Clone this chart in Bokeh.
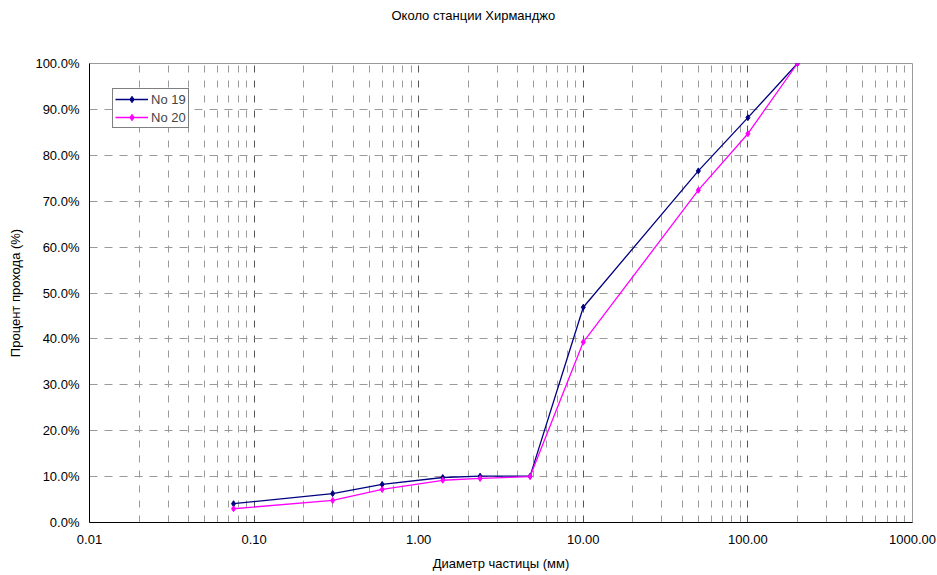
from bokeh.plotting import figure
from bokeh.models import (FixedTicker, CustomJSTickFormatter, Range1d, Legend, LegendItem, Title)
from bokeh.embed import file_html
from bokeh.resources import INLINE

# ---- data ----
diameter_mm = [0.075, 0.3, 0.6, 1.4, 2.36, 4.75, 10, 50, 100, 200]
no19_pct = [4.1, 6.3, 8.3, 9.8, 10.1, 10.1, 46.9, 76.6, 88.2, 100.0]
no20_pct = [3.0, 4.8, 7.2, 9.2, 9.6, 10.0, 39.3, 72.4, 84.7, 100.0]
series_names = ["No 19", "No 20"]
series_colors = ["#000080", "#FF00FF"]
x_major_ticks = [0.01, 0.1, 1, 10, 100, 1000]
x_minor_ticks = [m * d for d in [0.01, 0.1, 1, 10, 100] for m in range(2, 10)]
y_ticks = [0, 10, 20, 30, 40, 50, 60, 70, 80, 90, 100]
title_text = "Около станции Хирманджо"
x_label = "Диаметр частицы (мм)"
y_label = "Процент прохода (%)"

FONT = "Liberation Sans"

p = figure(width=937, height=575, x_axis_type="log", output_backend="svg",
           toolbar_location=None, x_range=Range1d(0.01, 1000), y_range=Range1d(0, 100),
           min_border_left=89, min_border_right=25, min_border_top=63, min_border_bottom=53)
p.title = None

# spacer panel next to the frame, then the real title above it
spacer = Title(text=" ", standoff=22, text_font=FONT, text_font_size="13px")
p.add_layout(spacer, "above")
t = Title(text=title_text, align="left", offset=302, standoff=0, vertical_align="top",
          text_font=FONT, text_font_size="13px", text_font_style="normal", text_color="black")
p.add_layout(t, "above")

p.outline_line_color = "#999999"
p.outline_line_width = 1
p.background_fill_color = "white"
p.border_fill_color = "white"

# axes
p.xaxis.ticker = FixedTicker(ticks=x_major_ticks, minor_ticks=x_minor_ticks)
p.xaxis.formatter = CustomJSTickFormatter(code="return tick.toFixed(2);")
p.yaxis.ticker = FixedTicker(ticks=y_ticks)
p.yaxis.formatter = CustomJSTickFormatter(code="return tick.toFixed(1) + '%';")
for ax in (p.xaxis[0], p.yaxis[0]):
    ax.axis_line_color = "black"
    ax.axis_line_width = 1
    ax.major_tick_in = 0
    ax.major_tick_out = 0
    ax.minor_tick_in = 0
    ax.minor_tick_out = 0
    ax.major_label_text_font = FONT
    ax.major_label_text_font_size = "13px"
    ax.major_label_text_color = "black"
    ax.axis_label_text_font = FONT
    ax.axis_label_text_font_size = "13px"
    ax.axis_label_text_font_style = "normal"
    ax.axis_label_text_color = "black"
p.xaxis.axis_label = x_label
p.yaxis.axis_label = y_label
p.xaxis.major_label_standoff = 12
p.xaxis.axis_label_standoff = 9
p.yaxis.major_label_standoff = 10
p.yaxis.axis_label_standoff = 9

# grids
p.xgrid.ticker = FixedTicker(ticks=x_major_ticks, minor_ticks=x_minor_ticks)
p.xgrid.grid_line_color = "#555555"
p.xgrid.grid_line_dash = "7 8"
p.xgrid.minor_grid_line_color = "#9a9a9a"
p.xgrid.minor_grid_line_dash = "7 8"
p.ygrid.ticker = FixedTicker(ticks=y_ticks)
p.ygrid.grid_line_color = "#9a9a9a"
p.ygrid.grid_line_dash = "8 7"

items = []
for name, vals, col in zip(series_names, [no19_pct, no20_pct], series_colors):
    ln = p.line(diameter_mm, vals, line_color=col, line_width=1.3)
    mk = p.scatter(diameter_mm, vals, marker="diamond", size=6, fill_color=col, line_color=col)
    items.append(LegendItem(label=name, renderers=[ln, mk]))

legend = Legend(items=items, location=(23, 394))
legend.label_text_font = FONT
legend.label_text_font_size = "13px"
legend.border_line_color = "black"
legend.border_line_width = 1
legend.background_fill_alpha = 1
legend.glyph_width = 33
legend.glyph_height = 16
legend.label_height = 16
legend.label_standoff = 3
legend.spacing = 2
legend.padding = 2
legend.margin = 0
p.add_layout(legend, "center")

open("out.html", "w").write(file_html(p, INLINE))
